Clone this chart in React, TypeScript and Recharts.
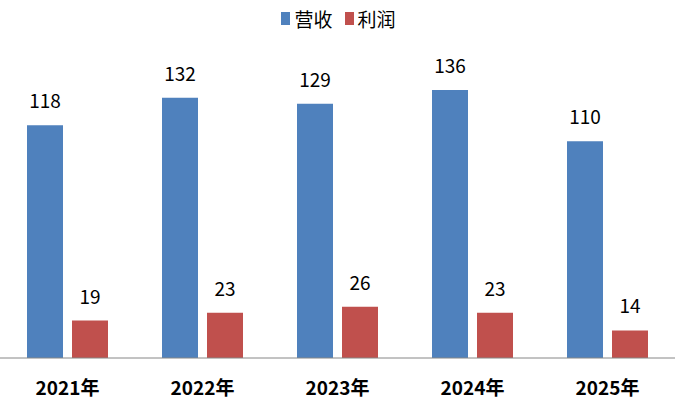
import { BarChart, Bar, XAxis, YAxis, LabelList } from 'recharts'

const years = ['2021年', '2022年', '2023年', '2024年', '2025年']
const revenue = [118, 132, 129, 136, 110]
const profit = [19, 23, 26, 23, 14]

const seriesNames = { revenue: '营收', profit: '利润' }
const colors = { revenue: '#4F81BD', profit: '#C0504D' }

const font = '"Noto Sans CJK SC", "Microsoft YaHei", sans-serif'

const data = years.map((year, i) => ({
  year,
  revenue: revenue[i],
  profit: profit[i],
}))

const YearTick = ({ x, y, payload }: any) => (
  <text
    x={x}
    y={y + 37}
    textAnchor="middle"
    fontSize={19}
    fontWeight="bold"
    fill="#000"
    fontFamily={font}
  >
    {payload.value}
  </text>
)

const LegendItem = ({ color, label }: { color: string; label: string }) => (
  <span style={{ display: 'inline-flex', alignItems: 'center', marginRight: 12 }}>
    <span style={{ width: 9, height: 13, background: color, display: 'inline-block', marginRight: 4 }} />
    <span>{label}</span>
  </span>
)

export default function App() {
  return (
    <div style={{ position: 'fixed', left: 0, top: 0, width: 677, height: 405, background: '#fff', fontFamily: font }}>
      <div
        style={{
          position: 'absolute',
          top: 3,
          left: 0,
          width: 677,
          textAlign: 'center',
          fontSize: 19,
          color: '#000',
          paddingLeft: 12,
          boxSizing: 'border-box',
        }}
      >
        <LegendItem color={colors.revenue} label={seriesNames.revenue} />
        <LegendItem color={colors.profit} label={seriesNames.profit} />
      </div>
      <BarChart
        width={677}
        height={405}
        data={data}
        margin={{ top: 82, right: 2, left: 0, bottom: 0 }}
        barCategoryGap="20%"
        barGap={9}
      >
        <XAxis
          dataKey="year"
          height={47}
          axisLine={{ stroke: '#868686' }}
          tickLine={false}
          tickSize={0}
          tickMargin={0}
          interval={0}
          tick={<YearTick />}
        />
        <YAxis hide domain={[0, 140]} />
        <Bar dataKey="revenue" fill={colors.revenue} barSize={36} isAnimationActive={false}>
          <LabelList dataKey="revenue" position="top" offset={17} fontSize={19} fill="#000" fontFamily={font} />
        </Bar>
        <Bar dataKey="profit" fill={colors.profit} barSize={36} isAnimationActive={false}>
          <LabelList dataKey="profit" position="top" offset={17} fontSize={19} fill="#000" fontFamily={font} />
        </Bar>
      </BarChart>
    </div>
  )
}
